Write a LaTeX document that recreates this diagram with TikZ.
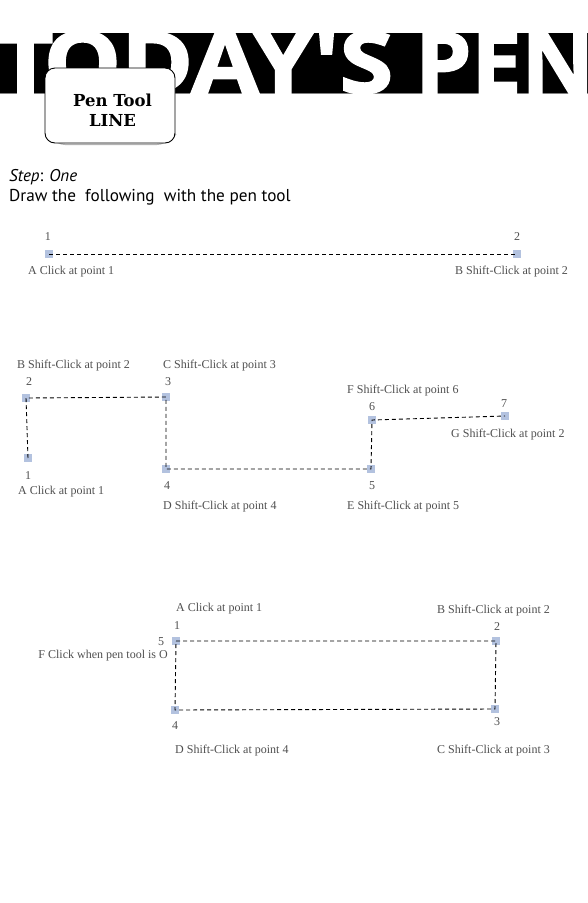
\documentclass[tikz,border=0pt]{standalone}
\usepackage{fontspec}
\usepackage{graphicx}
\newfontfamily\headfont[FakeBold=2]{Open Sans}
\newfontfamily\tabfont{DejaVu Serif}
\newfontfamily\stepfont{PT Sans}
\newfontfamily\lblfont{Liberation Serif}
\definecolor{markblue}{HTML}{B3C2DF}
\definecolor{lblgray}{HTML}{505050}
\tikzset{
  marker/.style={rectangle, fill=markblue, minimum size=7.5pt, inner sep=0pt},
  lbl/.style={font=\lblfont\fontsize{12}{13}\selectfont, text=lblgray, inner sep=0pt},
  num/.style={font=\lblfont\fontsize{12}{13}\selectfont, text=lblgray, inner sep=0pt},
  conn/.style={dash pattern=on 4pt off 3pt, line width=0.9pt, black},
  tabbox/.style={draw=black, line width=0.9pt, fill=white, rounded corners=10pt, minimum width=130pt, minimum height=75pt, inner sep=0pt},
  tabtext/.style={font=\tabfont\bfseries\fontsize{16.5}{20}\selectfont, inner sep=0pt, anchor=base}
}
\begin{document}
\begin{tikzpicture}[x=1pt,y=-1pt]
\useasboundingbox (0,0) rectangle (588,903);
\fill[white] (0,0) rectangle (588,903);
% header band
\fill[black] (0,33) rectangle (588,93);
\draw[gray, line width=0.8pt] (0,93.5) -- (588,93.5);
\begin{scope}
\clip (0,33) rectangle (588,93);
\node[anchor=base west, inner sep=0pt, text=white] (head) at (-3,93) {\resizebox{396pt}{62pt}{\headfont\bfseries T\kern-1.03pt ODAY'S}\kern22pt\resizebox{179pt}{60.5pt}{\headfont\bfseries PEN}};
\end{scope}
% tab
\draw[gray!60, line width=1.2pt, rounded corners=10pt] (46,80) -- (46,134) -- (56,144.5) -- (166,144.5) -- (176,134);
\node[tabbox] (tab) at (110,105.5) {};
\node[tabtext] (tabt1) at (112.5,106) {Pen Tool};
\node[tabtext] (tabt2) at (112.5,126) {LINE};
% step text
\node[anchor=base west, inner sep=0pt, font=\stepfont\fontsize{17}{19}\selectfont] (step) at (9,181) {\itshape Step\upshape: \itshape One};
\node[anchor=base west, inner sep=0pt, font=\stepfont\fontsize{17.2}{19}\selectfont] (draw) at (9,201) {Draw the~ following~ with the pen tool};

% ---- diagram 1
\node[marker] (a1) at (49,254) {};
\node[marker] (a2) at (517,254) {};
\draw[conn] (a1.center) -- (a2.center);
\node[num] (a1n) at (48,237) {1};
\node[num] (a2n) at (517,237) {2};
\node[lbl, anchor=west] (a1l) at (28,272) {A Click at point 1};
\node[lbl, anchor=west] (a2l) at (455,272) {B Shift-Click at point 2};

% ---- diagram 2
\node[marker] (b1) at (28,458) {};
\node[marker] (b2) at (26,398) {};
\node[marker] (b3) at (166,397) {};
\node[marker] (b4) at (166,469) {};
\node[marker] (b5) at (371,469) {};
\node[marker] (b6) at (372,420) {};
\node[marker] (b7) at (505,416) {};
\draw[conn] (b1.center) -- (b2.center) -- (b3.center) -- (b4.center) -- (b5.center) -- (b6.center) -- (b7.center);
\node[lbl, anchor=west] (b2l) at (17,366) {B Shift-Click at point 2};
\node[num] (b2n) at (29,382) {2};
\node[num] (b1n) at (28,476) {1};
\node[lbl, anchor=west] (b1l) at (18,492) {A Click at point 1};
\node[lbl, anchor=west] (b3l) at (163,366) {C Shift-Click at point 3};
\node[num] (b3n) at (168,382) {3};
\node[num] (b4n) at (167,486) {4};
\node[lbl, anchor=west] (b4l) at (163,507) {D Shift-Click at point 4};
\node[lbl, anchor=west] (b6l) at (347,391) {F Shift-Click at point 6};
\node[num] (b6n) at (372,407) {6};
\node[num] (b7n) at (504,404) {7};
\node[lbl, anchor=west] (b7l) at (451,435) {G Shift-Click at point 2};
\node[num] (b5n) at (372,486) {5};
\node[lbl, anchor=west] (b5l) at (347,507) {E Shift-Click at point 5};

% ---- diagram 3
\node[marker] (c1) at (176,641) {};
\node[marker] (c2) at (496,641) {};
\node[marker] (c3) at (495,709) {};
\node[marker] (c4) at (175,710) {};
\draw[conn] (c1.center) -- (c2.center) -- (c3.center) -- (c4.center) -- (c1.center);
\node[lbl, anchor=west] (c1l) at (176,609) {A Click at point 1};
\node[num] (c1n) at (177,626) {1};
\node[num] (c5n) at (161,642) {5};
\node[lbl, anchor=east] (c5l) at (168,656) {F Click when pen tool is O};
\node[num] (c4n) at (175,726) {4};
\node[lbl, anchor=west] (c4l) at (175,751) {D Shift-Click at point 4};
\node[lbl, anchor=west] (c2l) at (437,611) {B Shift-Click at point 2};
\node[num] (c2n) at (497,627) {2};
\node[num] (c3n) at (497,722) {3};
\node[lbl, anchor=west] (c3l) at (437,751) {C Shift-Click at point 3};
\end{tikzpicture}
\end{document}
